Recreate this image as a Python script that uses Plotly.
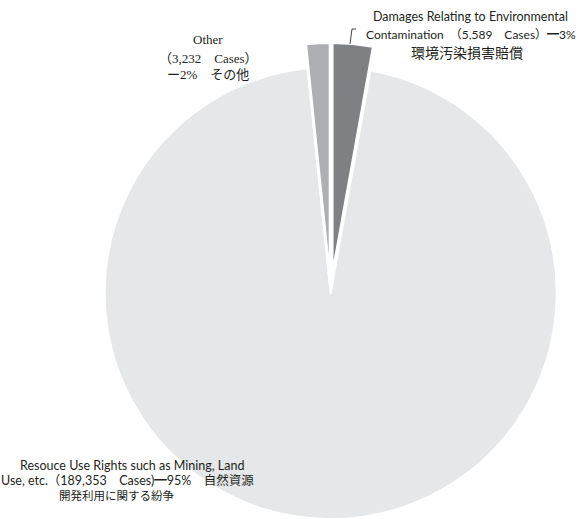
import math
import plotly.graph_objects as go

# Case counts by dispute type
categories = [
    "Damages Relating to Environmental Contamination",
    "Resouce Use Rights such as Mining, Land Use, etc.",
    "Other",
]
cases = [5589, 189353, 3232]
slice_colors = ["#7f8083", "#e6e7e8", "#aeafb2"]
pulled = [True, False, True]

W, H = 577, 519
CX, CY, R = 330.7, 293.0, 226.0   # pie centre and radius in px
PULL = 0.105                      # pulled-out slices, fraction of radius

SANS = "Lato, 'Noto Sans CJK JP', sans-serif"
SERIF = "'Liberation Serif', 'DejaVu Serif', 'Noto Sans CJK JP', serif"
TXT = "#231f20"


def domain_for(cx, cy):
    return dict(
        x=[(cx - R) / W, (cx + R) / W],
        y=[(H - (cy + R)) / H, (H - (cy - R)) / H],
    )


fig = go.Figure()

# Base pie: the large slice, with the pulled slices left as white gaps
base_colors = [c if not p else "white" for c, p in zip(slice_colors, pulled)]
fig.add_trace(go.Pie(
    labels=categories, values=cases, sort=False, direction="clockwise",
    rotation=0, marker=dict(colors=base_colors, line=dict(color="white", width=2)),
    textinfo="none", domain=domain_for(CX, CY), showlegend=False,
))

# Each pulled slice is drawn on its own, shifted out along its bisector
total = sum(cases)
start = 0.0
for i, v in enumerate(cases):
    if pulled[i]:
        theta = 2 * math.pi * (start + v / 2) / total
        dx = PULL * R * math.sin(theta)
        dy = -PULL * R * math.cos(theta)
        cols = ["rgba(0,0,0,0)"] * len(cases)
        cols[i] = slice_colors[i]
        lcols = ["rgba(0,0,0,0)"] * len(cases)
        lcols[i] = "white"
        lw = [0] * len(cases)
        lw[i] = 1.5
        fig.add_trace(go.Pie(
            labels=categories, values=cases, sort=False, direction="clockwise",
            rotation=0, marker=dict(colors=cols, line=dict(color=lcols, width=lw)),
            textinfo="none", domain=domain_for(CX + dx, CY + dy), showlegend=False,
            hoverinfo="skip",
        ))
    start += v


def px(x):
    return x / W


def py(y):
    return 1 - y / H


labels = [
    ("Damages Relating to Environmental", 470, 17, SANS, 12.5, TXT),
    ("Contamination　（5,589　Cases）━3%", 470.5, 35, SANS, 12, TXT),
    ("環境汚染損害賠償", 467, 52, SANS, 14, TXT),
    ("Other", 208, 39, SERIF, 13, TXT),
    ("（3,232　Cases）", 208, 58, SERIF, 13, TXT),
    ("ー2%　その他", 208, 75, SERIF, 13, TXT),
    ("Resouce Use Rights such as Mining, Land", 132, 465, SANS, 12.5, TXT),
    ("Use, etc.（189,353　Cases)━95%　自然資源", 127, 480, SANS, 12.5, TXT),
    ("開発利用に関する紛争", 116, 495, SANS, 11.5, TXT),
]
for text, x, y, fam, size, col in labels:
    fig.add_annotation(
        x=px(x), y=py(y), xref="paper", yref="paper", text=text,
        showarrow=False, xanchor="center", yanchor="middle",
        font=dict(family=fam, size=size, color=col),
    )

# Leader from the label to the contamination slice
fig.add_shape(
    type="path", xref="paper", yref="paper",
    path=f"M {px(350)} {py(44)} L {px(352)} {py(29)} L {px(356)} {py(29)}",
    line=dict(color="#444", width=1),
)

fig.update_layout(
    width=W, height=H, margin=dict(l=0, r=0, t=0, b=0),
    paper_bgcolor="white", plot_bgcolor="white", showlegend=False,
)

fig.write_html("out.html")
